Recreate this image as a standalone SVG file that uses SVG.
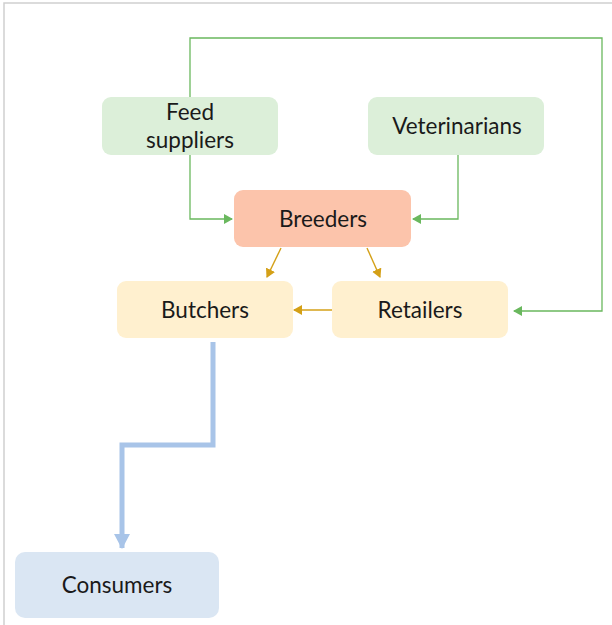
<svg xmlns="http://www.w3.org/2000/svg" width="612" height="625" viewBox="0 0 612 625">
  <style>
    .lbl { font-family: "Lato", "Open Sans", "Liberation Sans", sans-serif; font-size: 22.5px; fill: #1a1a1a; text-anchor: middle; }
    .green { fill: #dcefd9; }
    .salmon { fill: #fcc4ab; }
    .yellow { fill: #fff0cf; }
    .blue { fill: #dae6f3; }
    .gline { fill: none; stroke: #6ab85e; stroke-width: 1.3; }
    .oline { fill: none; stroke: #d4a017; stroke-width: 1.4; }
    .bline { fill: none; stroke: #a8c4e8; stroke-width: 5; }
  </style>
  <defs>
    <marker id="ag" markerWidth="10" markerHeight="10" refX="8" refY="5" orient="auto" markerUnits="userSpaceOnUse">
      <path d="M0,0 L9,5 L0,10 Z" fill="#6ab85e"/>
    </marker>
    <marker id="ao" markerWidth="10" markerHeight="10" refX="8" refY="5" orient="auto" markerUnits="userSpaceOnUse">
      <path d="M0,0 L9,5 L0,10 Z" fill="#d4a017"/>
    </marker>
    <marker id="ab" markerWidth="16" markerHeight="16" refX="14" refY="8" orient="auto" markerUnits="userSpaceOnUse">
      <path d="M0,0 L15,8 L0,16 Z" fill="#a8c4e8"/>
    </marker>
  </defs>
  <rect x="0" y="0" width="612" height="625" fill="#ffffff"/>
  <path d="M4,625 L4,3 L612,3" fill="none" stroke="#cfcfcf" stroke-width="1.5"/>

  <g id="connectors">
    <path class="gline" d="M190,97 L190,38 L602,38 L602,311 L514,311" marker-end="url(#ag)"/>
    <path class="gline" d="M190,155 L190,219 L232,219" marker-end="url(#ag)"/>
    <path class="gline" d="M458,155 L458,219 L413,219" marker-end="url(#ag)"/>
    <path class="oline" d="M281,248 L267,277" marker-end="url(#ao)"/>
    <path class="oline" d="M367,248 L380,277" marker-end="url(#ao)"/>
    <path class="oline" d="M332,310 L294,310" marker-end="url(#ao)"/>
    <path class="bline" d="M213,342 L213,445 L122,445 L122,548" marker-end="url(#ab)"/>
  </g>

  <g id="feed-suppliers">
    <rect class="green" x="102" y="97" width="176" height="58" rx="9"/>
    <text class="lbl" x="190" y="120">Feed</text>
    <text class="lbl" x="190" y="148">suppliers</text>
  </g>
  <g id="veterinarians">
    <rect class="green" x="368" y="97" width="176" height="58" rx="9"/>
    <text class="lbl" x="457" y="134">Veterinarians</text>
  </g>
  <g id="breeders">
    <rect class="salmon" x="234" y="190" width="177" height="57" rx="9"/>
    <text class="lbl" x="323" y="227">Breeders</text>
  </g>
  <g id="butchers">
    <rect class="yellow" x="117" y="281" width="176" height="57" rx="9"/>
    <text class="lbl" x="205" y="318">Butchers</text>
  </g>
  <g id="retailers">
    <rect class="yellow" x="332" y="281" width="176" height="57" rx="9"/>
    <text class="lbl" x="420" y="318">Retailers</text>
  </g>
  <g id="consumers">
    <rect class="blue" x="15" y="552" width="204" height="66" rx="10"/>
    <text class="lbl" x="117" y="593">Consumers</text>
  </g>
</svg>
